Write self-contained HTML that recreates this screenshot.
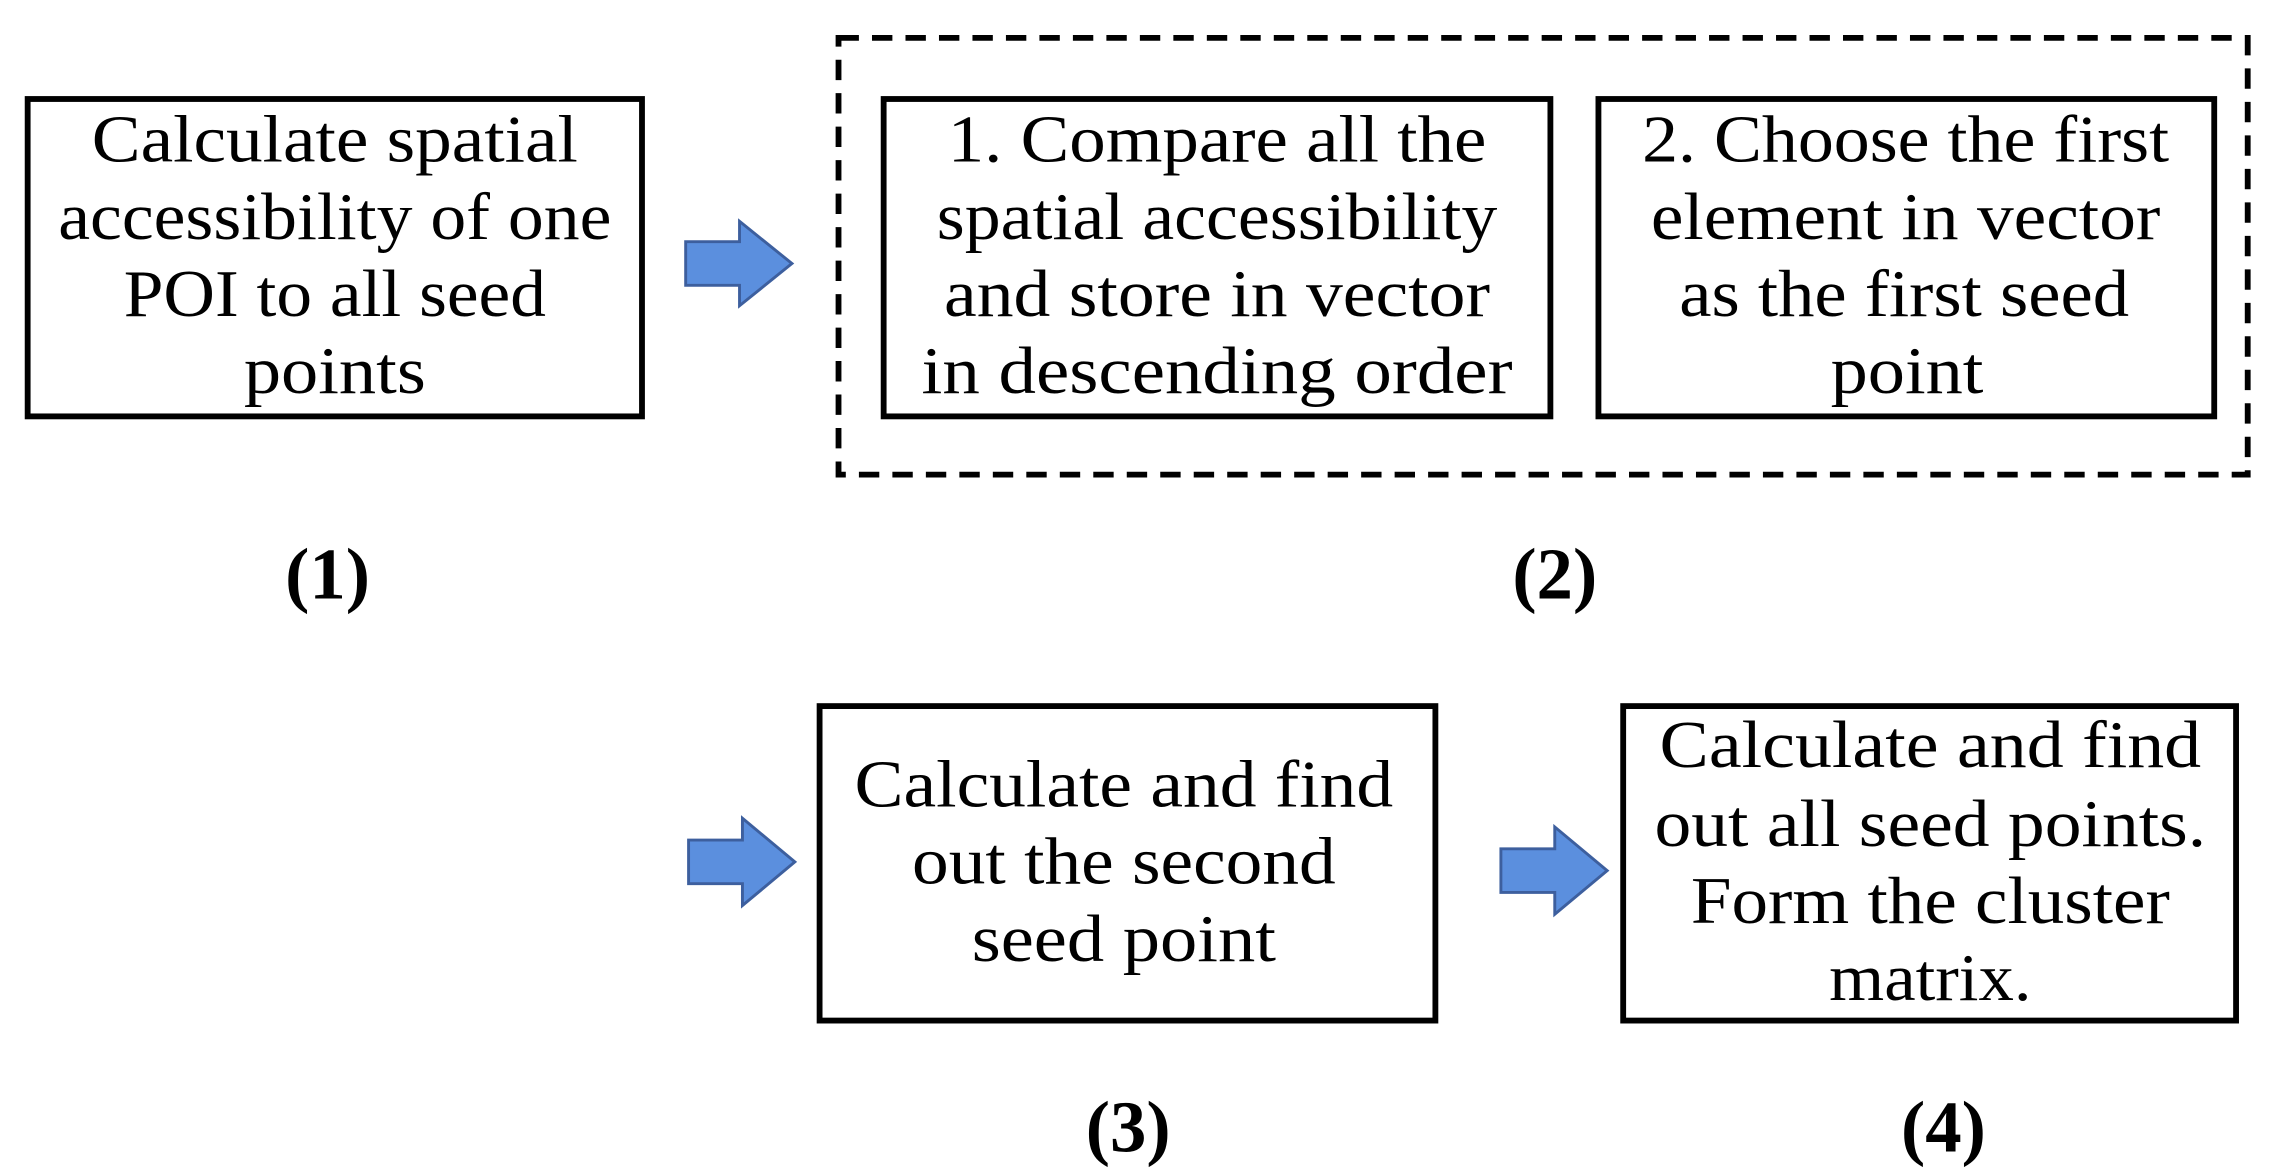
<!DOCTYPE html>
<html><head><meta charset="utf-8"><style>
html,body{margin:0;padding:0;background:#fff;}
svg{display:block;}
text{font-family:"Liberation Serif",serif;font-size:46px;fill:#000;text-anchor:middle;}
.b{font-weight:bold;font-size:50px;}
</style></head><body>
<svg width="2271" height="1173" viewBox="0 0 1560 805.7" preserveAspectRatio="none" xmlns="http://www.w3.org/2000/svg">
<rect width="1560" height="806" fill="#fff"/>
<rect x="576" y="26" width="968" height="300" fill="none" stroke="#000" stroke-width="4" stroke-dasharray="14,9"/>
<g fill="none" stroke="#000" stroke-width="4">
<rect x="19" y="68" width="422" height="218"/>
<rect x="607" y="68" width="458" height="218"/>
<rect x="1098" y="68" width="423" height="218"/>
<rect x="563" y="485" width="423" height="216"/>
<rect x="1115" y="485" width="421" height="216"/>
</g>
<g fill="#5b8fde" stroke="#3d5f9e" stroke-width="2">
<path d="M471,166 L508,166 L508,152 L544,181 L508,210 L508,196 L471,196 Z"/>
<path d="M473,577 L510,577 L510,562 L546,592 L510,622 L510,607 L473,607 Z"/>
<path d="M1031,583 L1068,583 L1068,568 L1104,598 L1068,628 L1068,613 L1031,613 Z"/>
</g>
<text x="230" y="111" textLength="334" lengthAdjust="spacingAndGlyphs">Calculate spatial</text>
<text x="230" y="164" textLength="380" lengthAdjust="spacingAndGlyphs">accessibility of one</text>
<text x="230" y="217" textLength="290" lengthAdjust="spacingAndGlyphs">POI to all seed</text>
<text x="230" y="270" textLength="125" lengthAdjust="spacingAndGlyphs">points</text>
<text x="836" y="111" textLength="370" lengthAdjust="spacingAndGlyphs">1. Compare all the</text>
<text x="836" y="164" textLength="385" lengthAdjust="spacingAndGlyphs">spatial accessibility</text>
<text x="836" y="217" textLength="375" lengthAdjust="spacingAndGlyphs">and store in vector</text>
<text x="836" y="270" textLength="406" lengthAdjust="spacingAndGlyphs">in descending order</text>
<text x="1309" y="111" textLength="362" lengthAdjust="spacingAndGlyphs">2. Choose the first</text>
<text x="1309" y="164" textLength="350" lengthAdjust="spacingAndGlyphs">element in vector</text>
<text x="1308" y="217" textLength="309" lengthAdjust="spacingAndGlyphs">as the first seed</text>
<text x="1310" y="270" textLength="105" lengthAdjust="spacingAndGlyphs">point</text>
<text x="772" y="554" textLength="370" lengthAdjust="spacingAndGlyphs">Calculate and find</text>
<text x="772" y="607" textLength="291" lengthAdjust="spacingAndGlyphs">out the second</text>
<text x="772" y="660" textLength="209" lengthAdjust="spacingAndGlyphs">seed point</text>
<text x="1326" y="527" textLength="372" lengthAdjust="spacingAndGlyphs">Calculate and find</text>
<text x="1326" y="581" textLength="379" lengthAdjust="spacingAndGlyphs">out all seed points.</text>
<text x="1326" y="634" textLength="329" lengthAdjust="spacingAndGlyphs">Form the cluster</text>
<text x="1326" y="687" textLength="139" lengthAdjust="spacingAndGlyphs">matrix.</text>
<text class="b" x="225" y="411">(1)</text>
<text class="b" x="1068" y="411">(2)</text>
<text class="b" x="775" y="791">(3)</text>
<text class="b" x="1335" y="791">(4)</text>
</svg>
</body></html>
